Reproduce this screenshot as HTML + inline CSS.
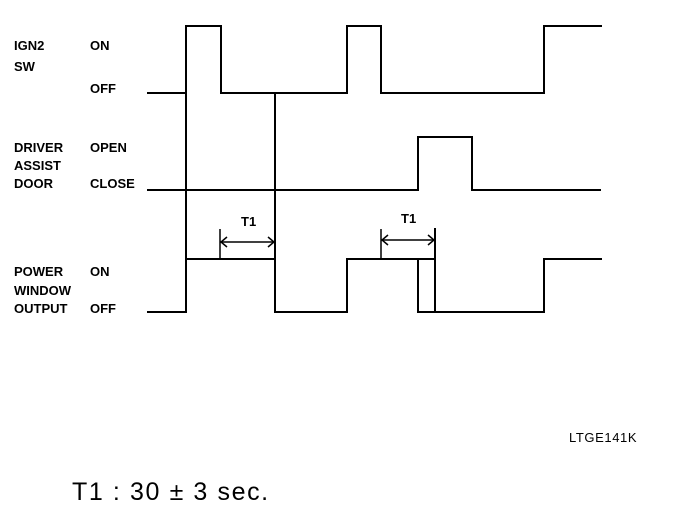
<!DOCTYPE html>
<html><head><meta charset="utf-8"><style>
html,body{margin:0;padding:0;background:#fff;}
svg{display:block;}
.l{font-family:"Liberation Sans",sans-serif;font-weight:bold;font-size:13px;fill:#000;}
</style></head><body>
<svg width="688" height="528" viewBox="0 0 688 528" xmlns="http://www.w3.org/2000/svg">
<g fill="none" stroke="#000" stroke-width="2">
<polyline points="147,93 186,93 186,26 221,26 221,93 347,93 347,26 381,26 381,93 544,93 544,26 602,26"/>
<polyline points="147,190 418,190 418,137 472,137 472,190 601,190"/>
<polyline points="147,312 186,312 186,259 275,259 275,312 347,312 347,259 435,259"/>
<polyline points="418,259 418,312 544,312 544,259 602,259"/>
<line x1="186" y1="93" x2="186" y2="259"/>
<line x1="275" y1="93" x2="275" y2="259"/>
<line x1="435" y1="228" x2="435" y2="312"/>
</g>
<g fill="none" stroke="#000" stroke-width="1.5">
<line x1="220" y1="229" x2="220" y2="259"/>
<line x1="220" y1="242" x2="275" y2="242"/>
<polyline points="227,237 221,242 227,247"/>
<polyline points="268,237 274,242 268,247"/>
<line x1="381" y1="229" x2="381" y2="259"/>
<line x1="381" y1="240" x2="435" y2="240"/>
<polyline points="388,235 382,240 388,245"/>
<polyline points="428,235 434,240 428,245"/>
</g>
<text class="l" x="241" y="226">T1</text>
<text class="l" x="401" y="223">T1</text>
<text class="l" x="14" y="50">IGN2</text>
<text class="l" x="90" y="50">ON</text>
<text class="l" x="14" y="71">SW</text>
<text class="l" x="90" y="93">OFF</text>
<text class="l" x="14" y="152">DRIVER</text>
<text class="l" x="90" y="152">OPEN</text>
<text class="l" x="14" y="170">ASSIST</text>
<text class="l" x="14" y="188">DOOR</text>
<text class="l" x="90" y="188">CLOSE</text>
<text class="l" x="14" y="276">POWER</text>
<text class="l" x="90" y="276">ON</text>
<text class="l" x="14" y="295">WINDOW</text>
<text class="l" x="14" y="313">OUTPUT</text>
<text class="l" x="90" y="313">OFF</text>
<text x="569" y="442" font-family="Liberation Sans,sans-serif" font-size="13" letter-spacing="0.6">LTGE141K</text>
<text x="72" y="500" font-family="Liberation Sans,sans-serif" font-size="25" letter-spacing="1.6">T1 : 30 ± 3 sec.</text>
</svg>
</body></html>
